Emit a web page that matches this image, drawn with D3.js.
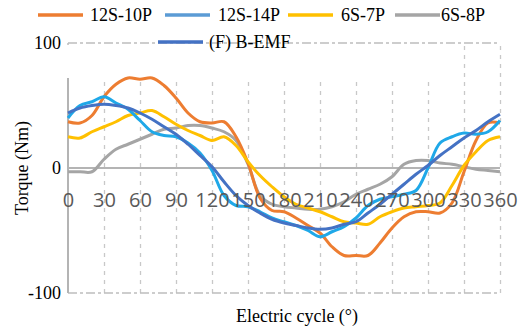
<!DOCTYPE html>
<html>
<head>
<meta charset="utf-8">
<style>
body { margin: 0; background: #fff; }
svg { display: block; }
</style>
</head>
<body>
<script src="https://d3js.org/d3.v7.min.js"></script>
<script>
// electric angle, degrees
var angles = d3.range(0, 361, 10);
var xTicks = d3.range(0, 361, 30);
var yTicks = [-100, 0, 100];

var s12_10 = [37, 36, 42, 57, 67, 72, 71, 72, 66, 56, 44, 37, 36, 37, 25, 4, -24, -34, -35, -40, -46, -52, -63, -70, -70, -70, -60, -48, -39, -35, -35, -36, -28, -3, 22, 36, 36];
var s12_14 = [40, 50, 53, 57, 52, 47, 38, 29, 26, 25, 20, 12, -2, -22, -30, -31, -35, -40, -43, -46, -50, -55, -51, -47, -40, -30, -25, -23, -21, -18, 0, 20, 25, 28, 27, 29, 38];
var s6_7 = [25, 24, 29, 33, 37, 42, 44, 46, 41, 35, 30, 26, 22, 25, 18, 5, -6, -15, -23, -29, -32, -35, -39, -43, -44, -45, -39, -35, -32, -31, -30, -28, -14, 2, 13, 22, 25];
var s6_8 = [-3, -3, -3, 7, 15, 19, 23, 27, 31, 32, 34, 34, 32, 29, 22, 3, -22, -29, -31, -32, -33, -33, -31, -27, -21, -17, -13, -7, 3, 6, 6, 4, 3, 1, -1, -2, -3];
var bemf = [44, 48, 50, 51, 50, 48, 44, 39, 33, 27, 19, 10, 1, -11, -22, -30, -36, -41, -44, -46, -48, -49, -48, -45, -43, -36, -29, -21, -13, -5, 2, 10, 17, 24, 30, 37, 43];

var seriesNames = ["12S-10P", "12S-14P", "6S-7P", "6S-8P", "(F) B-EMF"];
var seriesValues = [s12_10, s12_14, s6_7, s6_8, bemf];
var lineColors = ["#ed7d31", "#1fa8e8", "#ffc000", "#a5a5a5", "#4472c4"];
var legendColors = ["#ed7d31", "#5b9bd5", "#ffc000", "#a5a5a5", "#4472c4"];

var SERIF = '"Liberation Serif", "DejaVu Serif", serif';
var W = 523, H = 328;
var x = d3.scaleLinear().domain([0, 360]).range([68, 500]);
var y = d3.scaleLinear().domain([-100, 100]).range([293, 43]);

var svg = d3.select("body").append("svg")
    .attr("width", W)
    .attr("height", H);

// vertical grid
svg.append("g")
    .attr("transform", "translate(0," + y(-100) + ")")
    .call(d3.axisBottom(x).tickValues(xTicks.slice(1)).tickSize(y(-100) - y(100)).tickSizeOuter(0).tickFormat(""))
    .call(function(g) { g.select(".domain").remove(); })
    .selectAll("line")
    .attr("transform", "scale(1,-1)")
    .attr("stroke", "#c8c8c8")
    .attr("stroke-width", 1.3)
    .attr("stroke-dasharray", "4,5");

// top/bottom border, dash-dot
[100, -100].forEach(function(v) {
    svg.append("line")
        .attr("x1", x(0)).attr("x2", x(360))
        .attr("y1", y(v)).attr("y2", y(v))
        .attr("stroke", "#bdbdbd")
        .attr("stroke-width", 1.5)
        .attr("stroke-dasharray", "9,3,3,3");
});
svg.append("line")
    .attr("x1", x(0)).attr("x2", x(0))
    .attr("y1", y(100)).attr("y2", y(100) + 5)
    .attr("stroke", "#bdbdbd").attr("stroke-width", 1.5);

// white legend background, hides grid behind it
svg.append("rect")
    .attr("x", 60).attr("y", y(100) + 2)
    .attr("width", 385).attr("height", 34)
    .attr("fill", "#fff");

// left axis line and zero line
svg.append("line")
    .attr("x1", x(0)).attr("x2", x(0))
    .attr("y1", 78).attr("y2", y(-100))
    .attr("stroke", "#b4b4b4").attr("stroke-width", 2);
svg.append("line")
    .attr("x1", x(0)).attr("x2", x(360))
    .attr("y1", y(0)).attr("y2", y(0))
    .attr("stroke", "#b4b4b4").attr("stroke-width", 2);

// y tick labels
svg.append("g")
    .attr("transform", "translate(" + x(0) + ",0)")
    .call(d3.axisLeft(y).tickValues(yTicks).tickSize(0).tickPadding(7).tickFormat(function(d) { return String(d); }))
    .call(function(g) { g.select(".domain").remove(); })
    .selectAll("text")
    .style("font-family", SERIF)
    .style("font-size", "18px")
    .attr("fill", "#000");

// lines
var line = d3.line()
    .x(function(d, i) { return x(angles[i]); })
    .y(function(d) { return y(d); })
    .curve(d3.curveCatmullRom.alpha(0.5));

var order = [3, 0, 2, 1, 4];
order.forEach(function(k) {
    svg.append("path")
        .datum(seriesValues[k])
        .attr("fill", "none")
        .attr("stroke", lineColors[k])
        .attr("stroke-width", 3)
        .attr("stroke-linejoin", "round")
        .attr("d", line);
});

// x tick labels (drawn over lines, like the original)
svg.append("g")
    .attr("transform", "translate(0,193)")
    .call(d3.axisBottom(x).tickValues(xTicks).tickSize(0).tickPadding(0).tickFormat(d3.format("d")))
    .call(function(g) { g.select(".domain").remove(); })
    .selectAll("text")
    .style("font-family", '"Open Sans", sans-serif')
    .style("font-size", "20px")
    .attr("fill", "#595959")
    .attr("dy", "0.71em");

// legend
var legendPos = [
    {sx: 38, tx: 90, y: 15},
    {sx: 165, tx: 218, y: 15},
    {sx: 288, tx: 341, y: 15},
    {sx: 395, tx: 441, y: 15},
    {sx: 158, tx: 209, y: 42}
];
var legend = svg.append("g");
seriesNames.forEach(function(name, i) {
    var p = legendPos[i];
    legend.append("line")
        .attr("x1", p.sx).attr("x2", p.sx + 45)
        .attr("y1", p.y).attr("y2", p.y)
        .attr("stroke", legendColors[i])
        .attr("stroke-width", 3.5);
    legend.append("text")
        .attr("x", p.tx).attr("y", p.y + 6)
        .style("font-family", SERIF)
        .style("font-size", "18px")
        .attr("fill", "#000")
        .text(name);
});

// axis titles
svg.append("text")
    .attr("x", 297).attr("y", 322)
    .attr("text-anchor", "middle")
    .style("font-family", SERIF)
    .style("font-size", "18px")
    .text("Electric cycle (°)");
svg.append("text")
    .attr("transform", "translate(28,168) rotate(-90)")
    .attr("text-anchor", "middle")
    .style("font-family", SERIF)
    .style("font-size", "18px")
    .text("Torque (Nm)");
</script>
</body>
</html>
